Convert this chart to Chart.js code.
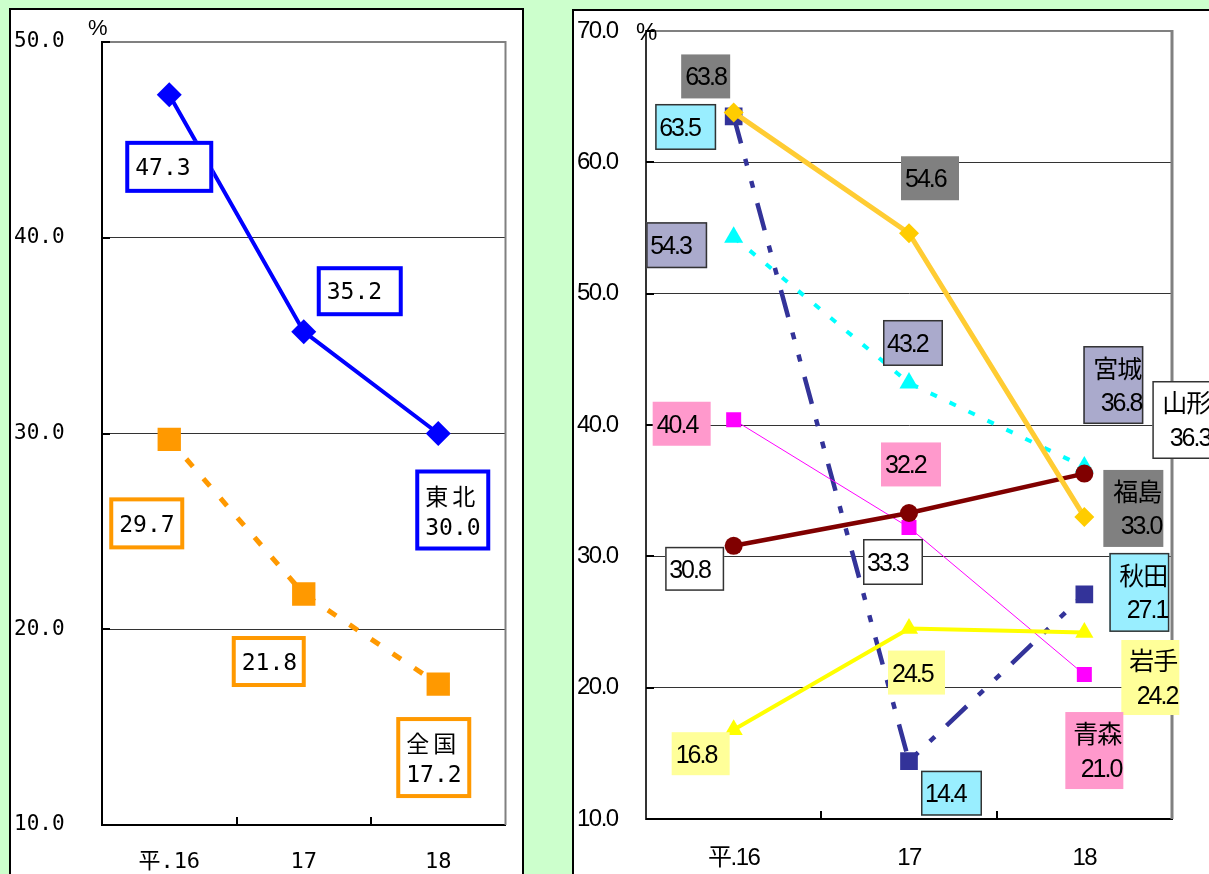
<!DOCTYPE html>
<html>
<head>
<meta charset="utf-8">
<script src="https://cdn.jsdelivr.net/npm/chart.js@4/dist/chart.umd.min.js"></script>
<style>
  html, body { margin: 0; padding: 0; background: #CCFFCC; width: 1209px; height: 874px; overflow: hidden; }
  .panel { position: absolute; background: #fff; border: 2px solid #000; box-sizing: border-box; }
  #p1 { left: 9px; top: 8px; width: 515px; height: 900px; }
  #p2 { left: 572px; top: 9px; width: 700px; height: 900px; }
  canvas { position: absolute; }
  #c1 { left: 11px; top: 10px; }
  #c2 { left: 574px; top: 11px; }
</style>
</head>
<body>
<div class="panel" id="p1"></div>
<div class="panel" id="p2"></div>
<canvas id="c1" width="511" height="864"></canvas>
<canvas id="c2" width="635" height="863"></canvas>
<script>
// Years (Heisei)
const years = ['平.16', '17', '18'];

// Left chart: Tohoku vs nationwide (%)
const tohoku = [47.3, 35.2, 30.0];
const zenkoku = [29.7, 21.8, 17.2];
const leftTicks = [10, 20, 30, 40, 50];

// Right chart: prefectures (%)
const fukushima = [63.8, 54.6, 33.0];
const yamagata = [30.8, 33.3, 36.3];
const iwate = [16.8, 24.5, 24.2];
const aomori = [40.4, 32.2, 21.0];
const miyagi = [54.3, 43.2, 36.8];
const akita = [63.5, 14.4, 27.1];
const rightTicks = [10, 20, 30, 40, 50, 60, 70];

// Value box placement: [dataset, index, dx, dy, width, height] relative to the point
const leftBoxes = [
  [0, 0, 0, 72, 88, 52], [0, 1, 56, -40.5, 86, 50], [0, 2, 14.5, 76.5, 75, 81],
  [1, 0, -22.5, 84, 75, 52], [1, 1, -35, 67.5, 74, 51], [1, 2, -4.5, 73.5, 75, 81]
];
const rightBoxes = [
  [0, 0, -28, -36, 49, 44], [0, 1, 21, -55, 58, 44], [0, 2, 49, -8.5, 60, 77],
  [1, 0, -39, 23, 59, 44], [1, 1, -16, 49, 60, 46], [1, 2, 98, -53.6, 60, 78],
  [2, 0, -33, 24, 58, 43], [2, 1, 7.5, 44, 57, 44], [2, 2, 66, 45, 58, 75],
  [3, 0, -52, 4, 58, 44], [3, 1, 2, -63, 60, 44], [3, 2, 10, 76, 58, 77],
  [4, 0, -57, 8, 61, 46], [4, 1, 4, -40, 60, 46], [4, 2, 29, -82, 60, 78],
  [5, 0, -48, 10.6, 61, 46], [5, 1, 42.5, 32, 61, 45], [5, 2, 55, -2, 60, 79]
];

// Inner tick marks, gray right frame and the unit sign
const axisDecor = {
  id: 'axisDecor',
  beforeDatasetsDraw(chart, args, o) {
    const { ctx, chartArea: a } = chart;
    const x = chart.scales.x, y = chart.scales.y;
    ctx.save();
    ctx.strokeStyle = o.frameColor;
    ctx.lineWidth = o.frameWidth;
    ctx.beginPath();
    ctx.moveTo(a.right, a.top - 1);
    ctx.lineTo(a.right, a.bottom);
    ctx.stroke();
    ctx.strokeStyle = '#000';
    ctx.lineWidth = 2;
    ctx.beginPath();
    for (let i = 1; i < x.ticks.length; i++) {
      const px = Math.round((x.getPixelForTick(i - 1) + x.getPixelForTick(i)) / 2);
      ctx.moveTo(px, a.bottom);
      ctx.lineTo(px, a.bottom - o.tickLen);
    }
    y.ticks.forEach(t => {
      const py = Math.round(y.getPixelForValue(t.value));
      ctx.moveTo(a.left, py);
      ctx.lineTo(a.left + o.tickLen, py);
    });
    ctx.stroke();
    ctx.letterSpacing = '0px';
    ctx.fillStyle = '#000';
    ctx.font = o.unitFont;
    ctx.textAlign = 'left';
    ctx.textBaseline = 'middle';
    ctx.fillText('%', o.unitX, o.unitY);
    ctx.restore();
  }
};

// Boxed value labels; the last point of each series also carries its name
const valueBoxes = {
  id: 'valueBoxes',
  afterDatasetsDraw(chart, args, o) {
    const ctx = chart.ctx;
    o.items.forEach(([di, i, dx, dy, w, h]) => {
      const ds = chart.data.datasets[di];
      const pt = chart.getDatasetMeta(di).data[i];
      const v = ds.data[i];
      const lines = i === ds.data.length - 1 ? [ds.label, v.toFixed(1)] : [v.toFixed(1)];
      const cx = pt.x + dx, cy = pt.y + dy;
      const x0 = cx - w / 2, y0 = cy - h / 2;
      ctx.save();
      ctx.fillStyle = o.fill[di];
      ctx.fillRect(x0, y0, w, h);
      const st = o.stroke[di];
      if (st) {
        ctx.strokeStyle = st;
        ctx.lineWidth = o.strokeWidth;
        const hw = o.strokeWidth / 2;
        ctx.strokeRect(x0 + hw, y0 + hw, w - o.strokeWidth, h - o.strokeWidth);
      }
      ctx.fillStyle = '#000';
      ctx.font = o.font;
      ctx.textBaseline = 'alphabetic';
      lines.forEach((s, k) => {
        const cjk = /[^\x00-\x7f]/.test(s);
        const vc = cy + (lines.length === 1 ? 0 : o.lineOffsets[k]);
        const base = vc + o.size * (cjk ? 0.38 : 0.36);
        ctx.letterSpacing = cjk ? o.cjkSpacing : o.spacing;
        if (lines.length === 1 || o.multiAlign === 'left') {
          ctx.textAlign = 'left';
          ctx.fillText(s, x0 + o.padL, base);
        } else {
          ctx.textAlign = 'right';
          ctx.fillText(s, x0 + w - o.padR, base);
        }
      });
      ctx.restore();
    });
  }
};

// Tighter glyph spacing for the right chart's texts
const tightText = {
  id: 'tightText',
  beforeDraw(chart) { chart.ctx.letterSpacing = '-1.5px'; }
};

function yGrid(top) {
  return {
    drawTicks: false,
    color: c => (c.tick && c.tick.value === top) ? '#808080' : '#333',
    lineWidth: c => (c.tick && c.tick.value === top) ? 2 : 1
  };
}

const monoFont = "'DejaVu Sans Mono', 'Noto Sans CJK JP', monospace";
const sansFont = "'Liberation Sans', Arial, 'Noto Sans CJK JP', sans-serif";

// Left chart
new Chart(document.getElementById('c1'), {
  type: 'line',
  data: {
    labels: years,
    datasets: [
      { label: '東北', data: tohoku, borderColor: '#0000FF', borderWidth: 4,
        pointStyle: 'rectRot', pointRadius: 12.5, pointBorderWidth: 0, pointBackgroundColor: '#0000FF' },
      { label: '全国', data: zenkoku, borderColor: '#FF9900', borderWidth: 5, borderDash: [10, 16],
        pointStyle: 'rect', pointRadius: 16.5, pointBorderWidth: 0, pointBackgroundColor: '#FF9900' }
    ]
  },
  options: {
    responsive: false, animation: false, devicePixelRatio: 1,
    layout: { padding: { left: 3, top: 32, right: 14, bottom: 0 } },
    scales: {
      x: {
        offset: true,
        grid: { display: false, drawTicks: false },
        border: { color: '#000', width: 2 },
        ticks: { color: '#000', padding: 24, font: { family: monoFont, size: 22 } },
        afterFit: s => { s.height = 49; }
      },
      y: {
        min: 10, max: 50,
        afterBuildTicks: s => { s.ticks = leftTicks.map(v => ({ value: v })); },
        grid: yGrid(50),
        border: { color: '#000', width: 2 },
        ticks: { color: '#000', crossAlign: 'far', font: { family: monoFont, size: 21 },
          callback: v => Number(v).toFixed(1) },
        afterFit: s => { s.width = 88; }
      }
    },
    plugins: {
      legend: { display: false },
      tooltip: { enabled: false },
      axisDecor: { frameColor: '#808080', frameWidth: 2, tickLen: 8,
        unitFont: "22px 'Liberation Sans', Arial, sans-serif", unitX: 77, unitY: 18.5 },
      valueBoxes: {
        items: leftBoxes,
        fill: ['#fff', '#fff'],
        stroke: ['#0000FF', '#FF9900'],
        strokeWidth: 4,
        font: "23px " + monoFont, size: 23,
        spacing: '0px', cjkSpacing: '4px',
        lineOffsets: [-14, 16.5],
        multiAlign: 'left', padL: 10, padR: 6
      }
    }
  },
  plugins: [axisDecor, valueBoxes]
});

// Right chart
new Chart(document.getElementById('c2'), {
  type: 'line',
  data: {
    labels: years,
    datasets: [
      { label: '福島', data: fukushima, borderColor: '#FFCC33', borderWidth: 5,
        pointStyle: 'rectRot', pointRadius: 10, pointBorderWidth: 0, pointBackgroundColor: '#FFCC00' },
      { label: '山形', data: yamagata, borderColor: '#800000', borderWidth: 4.5,
        pointStyle: 'circle', pointRadius: 9, pointBorderWidth: 0, pointBackgroundColor: '#800000' },
      { label: '岩手', data: iwate, borderColor: '#FFFF00', borderWidth: 4,
        pointStyle: 'triangle', pointRadius: 10.5, pointBorderWidth: 0, pointBackgroundColor: '#FFFF00' },
      { label: '青森', data: aomori, borderColor: '#FF00FF', borderWidth: 1,
        pointStyle: 'rect', pointRadius: 10.6, pointBorderWidth: 0, pointBackgroundColor: '#FF00FF' },
      { label: '宮城', data: miyagi, borderColor: '#00FFFF', borderWidth: 4, borderDash: [7, 14],
        pointStyle: 'triangle', pointRadius: 11, pointBorderWidth: 0, pointBackgroundColor: '#00FFFF' },
      { label: '秋田', data: akita, borderColor: '#333399', borderWidth: 4.5, borderDash: [28, 16, 7, 16, 7, 16],
        pointStyle: 'rect', pointRadius: 12.5, pointBorderWidth: 0, pointBackgroundColor: '#333399' }
    ]
  },
  options: {
    responsive: false, animation: false, devicePixelRatio: 1,
    layout: { padding: { left: 3, top: 20, right: 37, bottom: 0 } },
    scales: {
      x: {
        offset: true,
        grid: { display: false, drawTicks: false },
        border: { color: '#000', width: 2 },
        ticks: { color: '#000', padding: 25, font: { family: sansFont, size: 24 } },
        afterFit: s => { s.height = 55; }
      },
      y: {
        min: 10, max: 70,
        afterBuildTicks: s => { s.ticks = rightTicks.map(v => ({ value: v })); },
        grid: yGrid(70),
        border: { color: '#333', width: 2 },
        ticks: { color: '#000', crossAlign: 'far', font: { family: sansFont, size: 24 },
          callback: v => Number(v).toFixed(1) },
        afterFit: s => { s.width = 69; }
      }
    },
    plugins: {
      legend: { display: false },
      tooltip: { enabled: false },
      axisDecor: { frameColor: '#808080', frameWidth: 3, tickLen: 8,
        unitFont: "24px 'Liberation Sans', Arial, sans-serif", unitX: 62, unitY: 22 },
      valueBoxes: {
        items: rightBoxes,
        fill: ['#808080', '#FFFFFF', '#FFFF99', '#FF99CC', '#AAAACC', '#99EEFF'],
        stroke: [null, '#333', null, null, '#333', '#333'],
        strokeWidth: 1.5,
        font: "25px " + sansFont, size: 25,
        spacing: '-2px', cjkSpacing: '-1px',
        lineOffsets: [-17, 17],
        multiAlign: 'right', padL: 4, padR: 2
      }
    }
  },
  plugins: [tightText, axisDecor, valueBoxes]
});
</script>
</body>
</html>
